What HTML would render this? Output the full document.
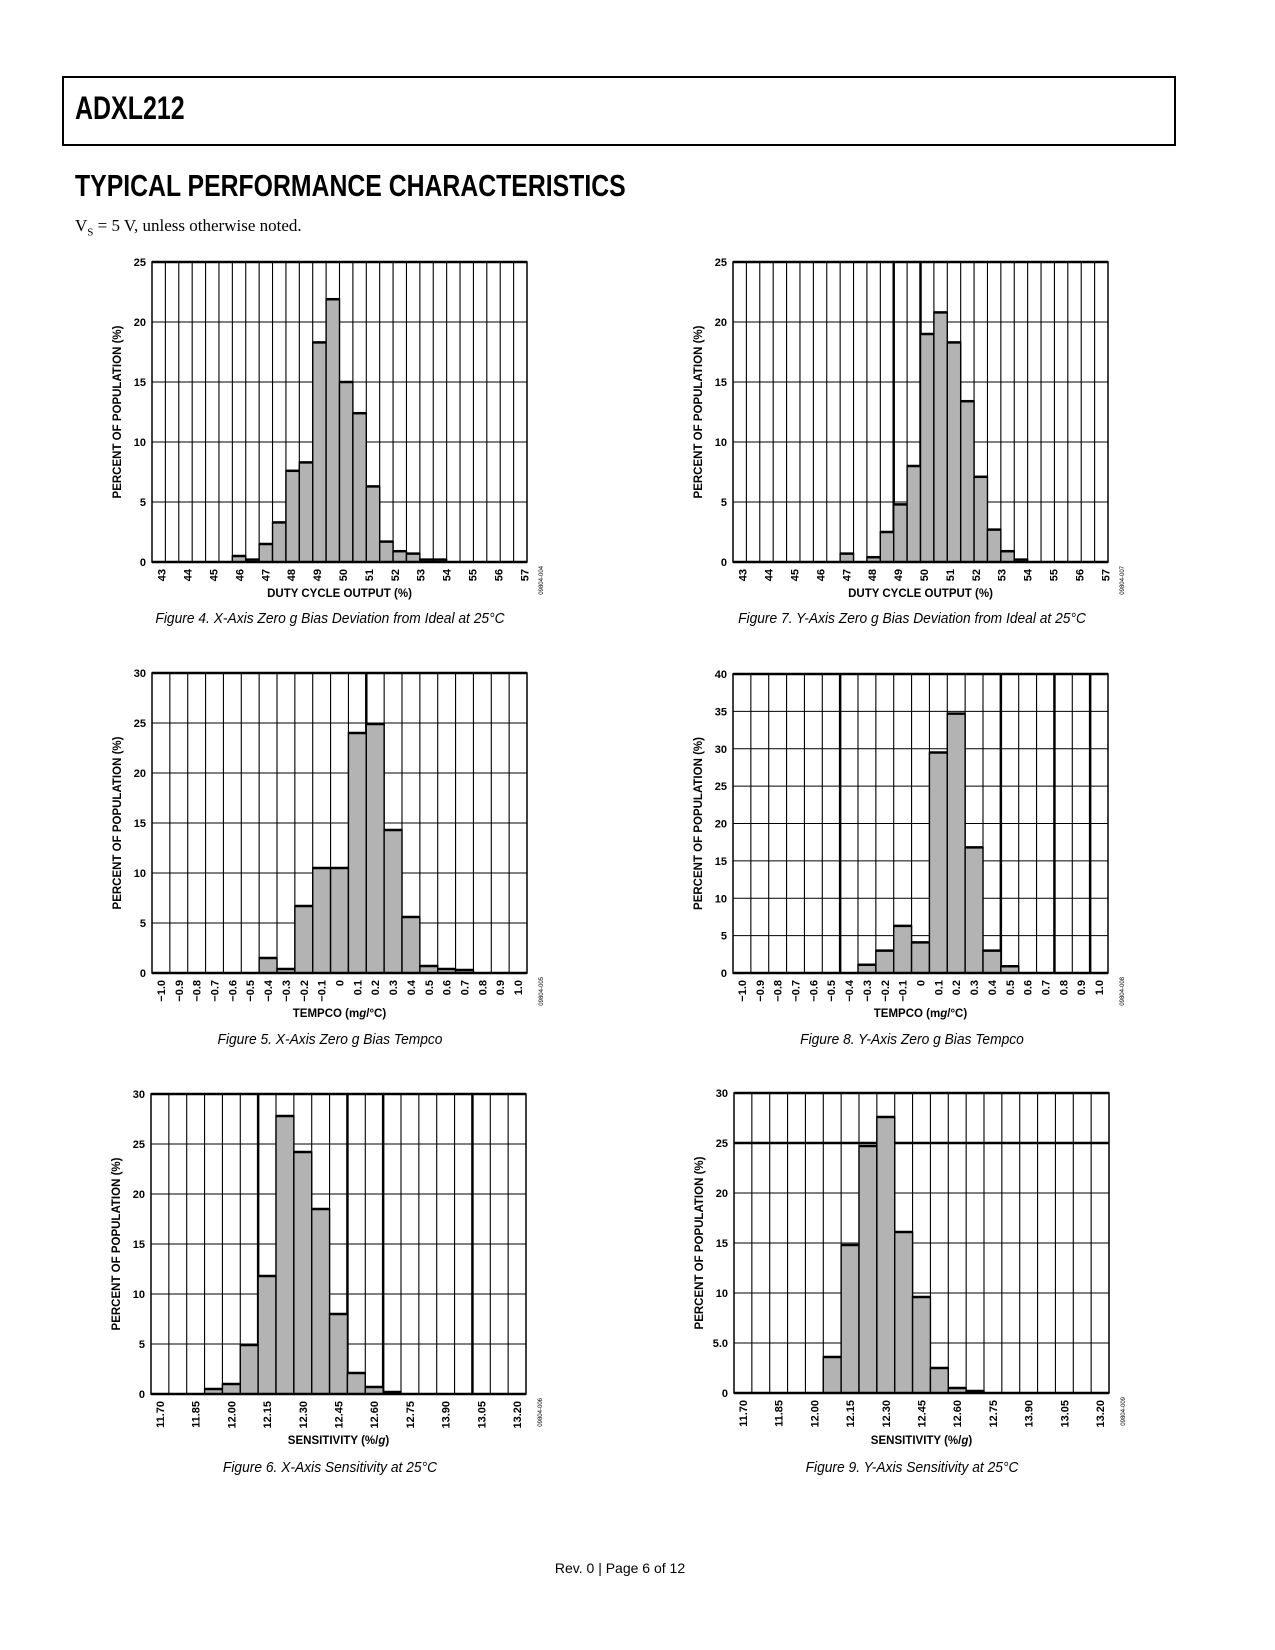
<!DOCTYPE html>
<html><head><meta charset="utf-8">
<style>
body{margin:0;background:#fff;}
#page{position:relative;width:1275px;height:1650px;overflow:hidden;background:#fff;font-family:"Liberation Sans",sans-serif;}
.hdr{position:absolute;left:62px;top:76px;width:1110px;height:66px;border:2px solid #000;}
.t{position:absolute;white-space:nowrap;}
.cap{position:absolute;font-family:"Liberation Sans",sans-serif;font-style:italic;font-size:15px;transform:translateX(-50%) scaleX(0.92);white-space:nowrap;}
svg{position:absolute;left:0;top:0;}
</style></head><body>
<div id="page">
<div class="hdr"></div>
<div class="t" style="left:75px;top:90px;font-size:32px;font-weight:bold;transform-origin:0 0;transform:scaleX(0.78);">ADXL212</div>
<div class="t" style="left:75px;top:168px;font-size:31px;font-weight:bold;transform-origin:0 0;transform:scaleX(0.80);">TYPICAL PERFORMANCE CHARACTERISTICS</div>
<div class="t" style="left:75px;top:216px;font-family:'Liberation Serif',serif;font-size:17px;">V<sub style="font-size:11px">S</sub> = 5 V, unless otherwise noted.</div>
<div class="cap" style="left:330px;top:610px;">Figure 4. X-Axis Zero g Bias Deviation from Ideal at 25°C</div>
<div class="cap" style="left:912px;top:610px;">Figure 7. Y-Axis Zero g Bias Deviation from Ideal at 25°C</div>
<div class="cap" style="left:330px;top:1031px;">Figure 5. X-Axis Zero g Bias Tempco</div>
<div class="cap" style="left:912px;top:1031px;">Figure 8. Y-Axis Zero g Bias Tempco</div>
<div class="cap" style="left:330px;top:1459px;">Figure 6. X-Axis Sensitivity at 25°C</div>
<div class="cap" style="left:912px;top:1459px;">Figure 9. Y-Axis Sensitivity at 25°C</div>
<div class="t" style="left:620px;top:1560px;font-size:14px;transform:translateX(-50%);">Rev. 0 | Page 6 of 12</div>
<svg id="svg" width="1275" height="1650"></svg>
</div>
<script>
// Fig 4 data (bar start values, width 0.5)
const f4Starts=[46,46.5,47,47.5,48,48.5,49,49.5,50,50.5,51,51.5,52,52.5,53,53.5];
const f4Vals=[0.5,0.2,1.5,3.3,7.6,8.3,18.3,21.9,15.0,12.4,6.3,1.7,0.9,0.7,0.2,0.2];
const f4Ticks=["43","44","45","46","47","48","49","50","51","52","53","54","55","56","57"];
// Fig 7
const f7Starts=[47,48,48.5,49,49.5,50,50.5,51,51.5,52,52.5,53,53.5];
const f7Vals=[0.7,0.4,2.5,4.8,8.0,19.0,20.8,18.3,13.4,7.1,2.7,0.9,0.2];
// Tempco categories
const tempTicks=["−1.0","−0.9","−0.8","−0.7","−0.6","−0.5","−0.4","−0.3","−0.2","−0.1","0","0.1","0.2","0.3","0.4","0.5","0.6","0.7","0.8","0.9","1.0"];
const f5Vals=[0,0,0,0,0,0,1.5,0.4,6.7,10.5,10.5,24.0,24.9,14.3,5.6,0.7,0.4,0.3,0,0,0];
const f8Vals=[0,0,0,0,0,0,0,1.1,3.0,6.3,4.1,29.5,34.7,16.8,3.0,0.9,0,0,0,0,0];
// Sensitivity
const sensTicks=["11.70","11.85","12.00","12.15","12.30","12.45","12.60","12.75","13.90","13.05","13.20"];
const f6Vals=[0,0,0,0.5,1.0,4.9,11.8,27.8,24.2,18.5,8.0,2.1,0.7,0.2,0,0,0,0,0,0,0];
const f9Vals=[0,0,0,0,0,3.6,14.8,24.7,27.6,16.1,9.6,2.5,0.5,0.2,0,0,0,0,0,0,0];

const NS="http://www.w3.org/2000/svg";
const svg=document.getElementById('svg');
function el(tag,attrs,parent){const e=document.createElementNS(NS,tag);for(const k in attrs)e.setAttribute(k,attrs[k]);(parent||svg).appendChild(e);return e;}

function chart(o){
  const g=el('g',{});
  
  
  const W=o.x1-o.x0,H=o.y1-o.y0;
  const xs=v=>o.x0+(v-o.xmin)/(o.xmax-o.xmin)*W;
  const ys=v=>o.y1-v/o.ymax*H;
  for(let i=1;i<o.ncols;i++){
    const x=o.x0+i*W/o.ncols;
    const gl=el('line',{x1:x,x2:x,y1:o.y0,y2:o.y1,stroke:'#000','stroke-width':(o.thickV||[]).includes(i)?2.5:1.1},g);
    
    
  }
  for(let v=o.ystep;v<o.ymax;v+=o.ystep){
    const y=ys(v);
    const gl=el('line',{x1:o.x0,x2:o.x1,y1:y,y2:y,stroke:'#000','stroke-width':(o.thickH===v)?2.5:1.1},g);
    
    
  }
  for(let i=0;i<o.starts.length;i++){
    const v=o.vals[i]; if(!v) continue;
    const xa=xs(o.starts[i]),xb=xs(o.starts[i]+o.bw);
    const b=el('rect',{x:xa,y:ys(v),width:xb-xa,height:o.y1-ys(v),fill:'#b3b3b3',stroke:'#000','stroke-width':1.4},g);
    
    
    el('line',{x1:xa,x2:xb,y1:ys(v),y2:ys(v),stroke:'#000','stroke-width':2.5},g);
  }
  const fr=el('rect',{x:o.x0,y:o.y0,width:W,height:H,fill:'none',stroke:'#000','stroke-width':1.5},g);
  
  
  el('line',{x1:o.x0,x2:o.x1,y1:o.y0,y2:o.y0,stroke:'#000','stroke-width':2.5},g);
  el('line',{x1:o.x0,x2:o.x1,y1:o.y1,y2:o.y1,stroke:'#000','stroke-width':2.5},g);
  for(let v=0;v<=o.ymax;v+=o.ystep){
    const t=el('text',{x:o.x0-6,y:ys(v)+4,'text-anchor':'end','font-size':11,'font-weight':'bold','font-family':'Liberation Sans, sans-serif'},g);
    t.textContent=(o.yfmt?o.yfmt(v):v);
    
    
  }
  for(let i=0;i<o.ticks.length;i++){
    const x=o.tickX(i,xs,W)+4;
    const t=el('text',{x:x,y:o.y1+7,'text-anchor':'end','font-size':11,'font-weight':'bold','font-family':'Liberation Sans, sans-serif',transform:`rotate(-90 ${x} ${o.y1+7})`},g);
    t.textContent=o.ticks[i];
    
    
  }
  const xt=el('text',{x:(o.x0+o.x1)/2,y:o.xty,'text-anchor':'middle','font-size':11.5,'font-weight':'bold','font-family':'Liberation Sans, sans-serif'},g);
  xt.innerHTML=o.xtitle;
  
  
  const yx=o.x0-31,yy=(o.y0+o.y1)/2;
  const yt=el('text',{x:yx,y:yy,'text-anchor':'middle','font-size':11.5,'font-weight':'bold','font-family':'Liberation Sans, sans-serif',transform:`rotate(-90 ${yx} ${yy})`},g);
  yt.textContent='PERCENT OF POPULATION (%)';
  
  
  const cx=o.x1+16,cy=o.y1+4;
  const id=el('text',{x:cx,y:cy,'text-anchor':'end','font-size':6,'font-family':'Liberation Sans, sans-serif',transform:`rotate(-90 ${cx} ${cy})`},g);
  id.textContent=o.code;
  
  
}
const idx=n=>Array.from({length:n},(_,i)=>i);
const duty={xmin:43,xmax:57,ncols:28,bw:0.5,ymax:25,ystep:5,ticks:f4Ticks,tickX:(i,xs,W)=>xs(43)+W*(0.72+1.934*i)/28,xtitle:'DUTY CYCLE OUTPUT (%)'};
chart(Object.assign({},duty,{name:'figure-4-chart',x0:152,x1:527,y0:262,y1:562,starts:f4Starts,vals:f4Vals,xty:597,code:'09804-004'}));
chart(Object.assign({},duty,{name:'figure-7-chart',x0:733,x1:1108,y0:262,y1:562,starts:f7Starts,vals:f7Vals,xty:597,code:'09804-007',thickV:[12,14]}));
const temp={xmin:0,xmax:21,ncols:21,bw:1,ticks:tempTicks,tickX:(i,xs)=>xs(i+0.5),xtitle:'TEMPCO (m<tspan font-style="italic">g</tspan>/°C)',starts:idx(21)};
chart(Object.assign({},temp,{name:'figure-5-chart',x0:152,x1:527,y0:673,y1:973,vals:f5Vals,ymax:30,ystep:5,xty:1017,code:'09804-005',thickV:[12]}));
chart(Object.assign({},temp,{name:'figure-8-chart',x0:733,x1:1108,y0:674,y1:973,vals:f8Vals,ymax:40,ystep:5,xty:1017,code:'09804-008',thickV:[6,15,18,20]}));
const sens={xmin:0,xmax:21,ncols:21,bw:1,ticks:sensTicks,tickX:(i,xs)=>xs(2*i+0.5),xtitle:'SENSITIVITY (%/<tspan font-style="italic">g</tspan>)',starts:idx(21),ymax:30,ystep:5};
chart(Object.assign({},sens,{name:'figure-6-chart',x0:151,x1:526,y0:1094,y1:1394,vals:f6Vals,xty:1444,code:'09804-006',thickV:[6,11,13,18]}));
chart(Object.assign({},sens,{name:'figure-9-chart',x0:734,x1:1109,y0:1093,y1:1393,vals:f9Vals,xty:1444,code:'09804-009',thickH:25,yfmt:v=>v===5?'5.0':v}));
</script>
</body></html>
